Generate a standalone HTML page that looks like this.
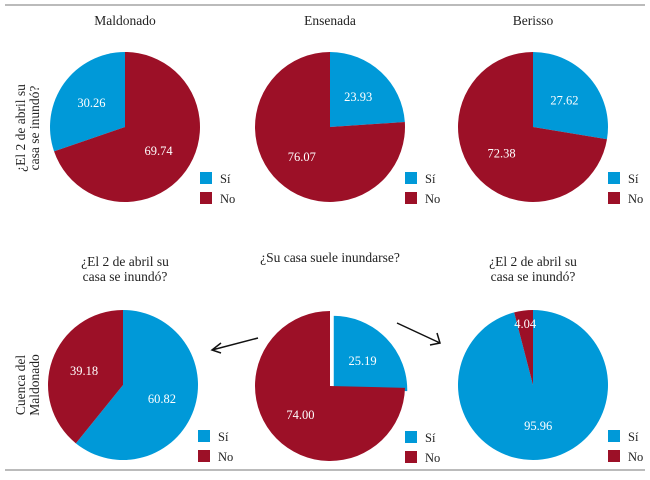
<!DOCTYPE html>
<html><head><meta charset="utf-8"><style>
body{margin:0;background:#fff}
svg{display:block;font-family:"Liberation Serif",serif}
</style></head><body>
<svg id="c" width="650" height="480">
<line x1="5" y1="5" x2="645" y2="5" stroke="#777"/>
<line x1="5" y1="470" x2="645" y2="470" stroke="#777"/>
<g font-size="13.5" fill="#222" text-anchor="middle">
<text x="125" y="25">Maldonado</text>
<text x="330" y="25">Ensenada</text>
<text x="533" y="25">Berisso</text>
<text x="125" y="266"><tspan x="125">¿El 2 de abril su</tspan><tspan x="125" dy="15">casa se inundó?</tspan></text>
<text x="330" y="262">¿Su casa suele inundarse?</text>
<text x="533" y="266"><tspan x="533">¿El 2 de abril su</tspan><tspan x="533" dy="15">casa se inundó?</tspan></text>
<text transform="translate(25,128) rotate(-90)"><tspan x="0" y="0">¿El 2 de abril su</tspan><tspan x="0" y="14">casa se inundó?</tspan></text>
<text transform="translate(25,385) rotate(-90)"><tspan x="0" y="0">Cuenca del</tspan><tspan x="0" y="14">Maldonado</tspan></text>
</g>
<g stroke="#111" stroke-width="1.5" fill="none">
<path d="M258,338 L212,350 M221,343 L212,350 L221,353"/>
<path d="M397,323 L440,343 M437,333 L440,343 L430,345"/>
</g>
</svg>
<script>
const pieNames=["maldonado","ensenada","berisso","bottom-left","bottom-middle","bottom-right"];
const siValues=[30.26,23.93,27.62,60.82,25.19,95.96];
const noValues=[69.74,76.07,72.38,39.18,74.00,4.04];
const legendLabels=["Sí","No"];
const layout=[[125,127],[330,127],[533,127],[123,385],[330,386],[533,385]];
const direction=[-1,1,1,1,1,1];
const explodeOffset=[[0,0],[0,0],[0,0],[0,0],[3,4],[0,0]];
const colors=["#0099d8","#9c1027"];
const R=75;
const svg=document.getElementById('c');
const NS="http://www.w3.org/2000/svg";
function pt(cx,cy,a,r){return [cx+r*Math.sin(a),cy-r*Math.cos(a)];}
function arc(cx,cy,a0,a1){
  const lo=Math.min(a0,a1),hi=Math.max(a0,a1);
  const p0=pt(cx,cy,lo,R),p1=pt(cx,cy,hi,R);
  const large=(hi-lo)>Math.PI?1:0;
  return `M${cx},${cy} L${p0[0]},${p0[1]} A${R},${R} 0 ${large} 1 ${p1[0]},${p1[1]} Z`;
}
pieNames.forEach((n,i)=>{
  const [cx,cy]=layout[i];
  const vals=[siValues[i],noValues[i]];
  const tot=vals[0]+vals[1];
  const d=direction[i];
  let a=0;
  vals.forEach((v,k)=>{
    const a1=a+d*v/tot*2*Math.PI;
    const mid=(a+a1)/2;
    const [ox,oy]=k===0?explodeOffset[i]:[0,0];
    const p=document.createElementNS(NS,'path');
    p.setAttribute('d',arc(cx+ox,cy+oy,a,a1));
    p.setAttribute('fill',colors[k]);
    if(ox||oy){p.setAttribute('stroke','#fff');p.setAttribute('stroke-width','1.5');}
    
    
    svg.appendChild(p);
    const lr=v<10?R*0.82:R*0.55;
    const lp=pt(cx+ox,cy+oy,mid,lr);
    const t=document.createElementNS(NS,'text');
    t.setAttribute('x',lp[0]);t.setAttribute('y',lp[1]+4);
    t.setAttribute('text-anchor','middle');t.setAttribute('font-size','12.5');t.setAttribute('fill','#fff');
    t.textContent=v.toFixed(2);
    
    
    svg.appendChild(t);
    a=a1;
  });
  const lx=cx+75, ly=cy+45;
  legendLabels.forEach((lab,k)=>{
    const r=document.createElementNS(NS,'rect');
    r.setAttribute('x',lx);r.setAttribute('y',ly+k*20);r.setAttribute('width',12);r.setAttribute('height',12);
    r.setAttribute('fill',colors[k]);
    
    
    svg.appendChild(r);
    const t=document.createElementNS(NS,'text');
    t.setAttribute('x',lx+20);t.setAttribute('y',ly+k*20+11);t.setAttribute('font-size','12.5');t.setAttribute('fill','#222');
    t.textContent=lab;
    
    
    svg.appendChild(t);
  });
});
</script>
</body></html>
